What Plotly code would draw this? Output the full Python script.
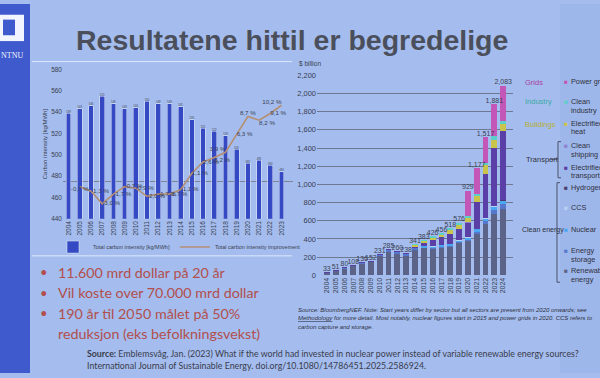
import plotly.graph_objects as go

W, H = 600, 378
def X(p): return p / W
def Y(p): return 1 - p / H

# ---------------- Left chart data ----------------
years_left = [str(y) for y in range(2004, 2024)]
carbon_intensity = [539, 543, 546, 555, 548, 543, 544, 550, 548, 548,
                    545, 533, 525, 522, 518, 505, 492, 495, 490, 484]
improvement_years = [str(y) for y in range(2005, 2024)]
improvement_pct = [-0.7, -1.3, -3.0, -1.7, -0.7, -0.9, -2.0, -1.7, -1.7, -1.1,
                   1.1, 2.6, 3.2, 3.9, 6.3, 8.7, 8.2, 9.1, 10.2]
improvement_labelpos = ["bottom center", "middle right", "middle right", "middle right",
                        "middle right", "middle right", "middle right", "middle right",
                        "middle right", "middle right", "middle right", "middle right",
                        "bottom right", "top left", "middle right", "top center",
                        "bottom right", "middle right", "top left"]

# ---------------- Right chart data ($ billion) ----------------
years_right = [str(y) for y in range(2004, 2025)]
totals = [33, 51, 80, 108, 136, 152, 231, 285, 260, 238, 341, 383, 426, 456,
          518, 576, 929, 1177, 1517, 1881, 2083]
renewable = [32, 50, 78, 106, 133, 148, 215, 265, 241, 217, 282, 299, 289, 299,
             314, 354, 376, 462, 570, 677, 728]
storage = [0, 0, 1, 1, 2, 3, 12, 15, 14, 16, 18, 10, 12, 13, 14, 12, 15, 20, 25, 43, 54]
nuclear = [0, 0, 0, 0, 0, 0, 0, 0, 0, 0, 0, 15, 18, 20, 16, 20, 28, 26, 30, 35, 34]
ccs = [0, 0, 0, 0, 0, 0, 1, 1, 1, 1, 1, 1, 1, 1, 1, 1, 3, 2, 6, 5, 6]
hydrogen = [0, 0, 0, 0, 0, 0, 0, 0, 0, 0, 0, 0, 0, 0, 0, 0, 1, 1, 3, 3, 8]
e_transport = [1, 1, 1, 1, 1, 1, 3, 4, 4, 4, 12, 27, 66, 86, 115, 128, 158, 298, 480, 640, 757]
shipping = [0, 0, 0, 0, 0, 0, 0, 0, 0, 0, 0, 0, 0, 0, 0, 0, 1, 1, 1, 1, 1]
e_heat = [0, 0, 0, 0, 0, 0, 0, 0, 0, 0, 20, 25, 32, 31, 45, 45, 54, 64, 95, 85, 73]
industry = [0, 0, 0, 0, 0, 0, 0, 0, 0, 0, 8, 6, 8, 6, 13, 16, 22, 24, 30, 43, 31]
grids = [0, 0, 0, 0, 0, 0, 0, 0, 0, 0, 0, 0, 0, 0, 0, 0, 271, 279, 277, 349, 391]

right_series = [
    ("Renewable energy", renewable, "#5c6389"),
    ("Energy storage", storage, "#5577cc"),
    ("Nuclear", nuclear, "#4aa8f2"),
    ("CCS", ccs, "#b9d2f4"),
    ("Hydrogen", hydrogen, "#4a3d6c"),
    ("Electrified transport", e_transport, "#5a3fa6"),
    ("Clean shipping", shipping, "#8d80d2"),
    ("Electrified heat", e_heat, "#c9c44c"),
    ("Clean industry", industry, "#5ccfc8"),
    ("Power grids", grids, "#c257b8"),
]

BG = "#a4bdee"
TXT = "#3a3d52"
SANS = "Liberation Sans"

fig = go.Figure()

# Left chart
fig.add_trace(go.Bar(
    x=years_left, y=carbon_intensity, width=0.42,
    marker_color="#3649c4", name="Total carbon intensity [kg/MWh]",
    text=[str(v) for v in carbon_intensity], textposition="outside",
    textfont=dict(size=6.5, color=TXT, family=SANS), cliponaxis=False,
    xaxis="x", yaxis="y", legend="legend",
))
fig.add_trace(go.Scatter(
    x=improvement_years, y=improvement_pct, mode="lines+text",
    line=dict(color="#b48f74", width=1.6),
    name="Total carbon intensity improvement",
    text=[("%.1f" % v).replace(".", ",") + " %" for v in improvement_pct],
    textposition=improvement_labelpos,
    textfont=dict(size=6.2, color=TXT, family=SANS), cliponaxis=False,
    xaxis="x", yaxis="y2", legend="legend",
))

# Right chart
for name, vals, col in right_series:
    fig.add_trace(go.Bar(
        x=years_right, y=vals, width=0.66, name=name, marker_color=col,
        marker_line_width=0, xaxis="x3", yaxis="y3", showlegend=False,
    ))
fig.add_trace(go.Scatter(
    x=years_right, y=totals, mode="text",
    text=["{:,}".format(v) for v in totals], textposition="top center",
    textfont=dict(size=7, color=TXT, family=SANS), cliponaxis=False,
    xaxis="x3", yaxis="y3", showlegend=False, hoverinfo="skip",
))

shapes = [
    # left dark strip with logo
    dict(type="rect", xref="paper", yref="paper", x0=X(0), x1=X(30), y0=0, y1=1,
         fillcolor="#3f5acd", line_width=0, layer="below"),
    dict(type="rect", xref="paper", yref="paper", x0=X(-4), x1=X(24), y0=Y(38), y1=Y(11),
         fillcolor="#f2f5ff", line_width=0, layer="below"),
    dict(type="rect", xref="paper", yref="paper", x0=X(3), x1=X(15), y0=Y(32), y1=Y(16),
         fillcolor="#3f5acd", line_width=0, layer="below"),
    # faint borders of pasted chart image
    dict(type="line", xref="paper", yref="paper", x0=X(32), x1=X(292), y0=Y(59), y1=Y(59),
         line=dict(color="rgba(235,242,255,0.8)", width=1), layer="below"),
    dict(type="line", xref="paper", yref="paper", x0=X(32), x1=X(292), y0=Y(258), y1=Y(258),
         line=dict(color="rgba(235,242,255,0.8)", width=1), layer="below"),
    # slight darkening at right edge
    dict(type="rect", xref="paper", yref="paper", x0=X(560), x1=X(600), y0=0, y1=1,
         fillcolor="rgba(50,80,170,0.05)", line_width=0, layer="below"),
    # legend brackets (right chart)
    dict(type="path", xref="paper", yref="paper",
         path="M %f %f L %f %f L %f %f L %f %f" % (X(561), Y(141), X(558), Y(141), X(558), Y(178), X(561), Y(178)),
         line=dict(color="#4a5068", width=1)),
    dict(type="line", xref="paper", yref="paper", x0=X(550), x1=X(558), y0=Y(159), y1=Y(159),
         line=dict(color="#4a5068", width=1)),
    dict(type="path", xref="paper", yref="paper",
         path="M %f %f L %f %f L %f %f L %f %f" % (X(560), Y(183), X(557), Y(183), X(557), Y(285), X(560), Y(285)),
         line=dict(color="#4a5068", width=1)),
]

ann = []
def text(x, y, s, size, color=TXT, family=SANS, xanchor="left", **kw):
    ann.append(dict(x=X(x), y=Y(y), xref="paper", yref="paper", text=s, showarrow=False,
                    xanchor=xanchor, yanchor="middle", font=dict(size=size, color=color, family=family), **kw))

# Title and logo text
text(74, 37, "<b>Resultatene hittil er begredelige</b>", 28.5, color="#4b4f5b")
text(12, 53, "NTNU", 8, color="#f2f5ff", family="Liberation Serif", xanchor="center")

# bullets
RED = "#b24f4d"
bullets = [(275, "11.600 mrd dollar på 20 år"), (296, "Vil koste over 70.000 mrd dollar"),
           (317, "190 år til 2050 målet på 50%")]
for yy, s in bullets:
    text(38, yy, "•", 13, color=RED, family="Lato")
    text(56, yy, s, 14.3, color=RED, family="Lato")
text(56, 338, "reduksjon (eks befolkningsvekst)", 14.3, color=RED, family="Lato")

# bottom source
text(85, 358, "<b>Source:</b> Emblemsvåg, Jan. (2023) What if the world had invested in nuclear power instead of variable renewable energy sources?",
     8.8, color="#3a3c4c", family="Lato")
text(85, 370, "International Journal of Sustainable Energy. doi.org/10.1080/14786451.2025.2586924.",
     8.8, color="#3a3c4c", family="Lato")

# right note
text(296, 313, "<i>Source: BloombergNEF. Note: Start years differ by sector but all sectors are present from 2020 onwards; see</i>", 6, color="#2e3040")
text(296, 322, "<i><u>Methodology</u> for more detail. Most notably, nuclear figures start in 2015 and power grids in 2020. CCS refers to</i>", 6, color="#2e3040")
text(296, 331, "<i>carbon capture and storage.</i>", 6, color="#2e3040")

# right chart unit
text(297, 61, "$ billion", 6.5)

# right legend group labels
text(523, 80, "Grids", 7.5, color="#a8439f")
text(523, 100, "Industry", 7.5, color="#3aa9a2")
text(523, 123, "Buildings", 7.5, color="#b7ae33")
text(524, 159, "Transport", 7.5, color="#2e3040")
text(520, 232, "Clean energy", 7, color="#2e3040")

# right legend items
legend_items = [
    ("Power grids", None, 79, "#c257b8"),
    ("Clean", "industry", 100, "#5ccfc8"),
    ("Electrified", "heat", 122, "#c9c44c"),
    ("Clean", "shipping", 145, "#8d80d2"),
    ("Electrified", "transport", 167, "#5a3fa6"),
    ("Hydrogen", None, 188, "#4a3d6c"),
    ("CCS", None, 208, "#b9d2f4"),
    ("Nuclear", None, 231, "#4aa8f2"),
    ("Energy", "storage", 253, "#5577cc"),
    ("Renewable", "energy", 273, "#5c6389"),
]
for l1, l2, yy, col in legend_items:
    text(562, yy, "■", 6.5, color=col)
    text(569, yy, l1, 7.3, color="#2e3040")
    if l2:
        text(569, yy + 9, l2, 7.3, color="#2e3040")

fig.update_layout(
    width=W, height=378, autosize=False,
    margin=dict(l=0, r=0, t=0, b=0),
    paper_bgcolor=BG, plot_bgcolor="rgba(0,0,0,0)",
    font=dict(family=SANS, color=TXT),
    barmode="stack",
    shapes=shapes, annotations=ann,
    showlegend=True,
    legend=dict(orientation="h", x=X(53), y=Y(249), xanchor="left", yanchor="middle",
                font=dict(size=5.5, color=TXT, family=SANS), bgcolor="rgba(0,0,0,0)",
                itemwidth=30, tracegroupgap=0, traceorder="normal"),
    xaxis=dict(domain=[X(63), X(293)], type="category", tickangle=-90,
               tickfont=dict(size=6.5, color=TXT), showgrid=False, showline=False,
               ticks="", anchor="y"),
    yaxis=dict(domain=[Y(220), Y(67)], range=[440, 580], dtick=20, showgrid=False,
               zeroline=False, tickfont=dict(size=6.5, color=TXT), ticks="",
               title=dict(text="Carbon intensity [kg/MWh]", font=dict(size=6, color=TXT), standoff=3),
               anchor="x"),
    yaxis2=dict(overlaying="y", range=[-5, 15], showticklabels=False, showgrid=False,
                zeroline=True, zerolinecolor="#7f8594", zerolinewidth=1, ticks="",
                side="right", anchor="x"),
    xaxis3=dict(domain=[X(317), X(513)], type="category", tickangle=-90,
                tickfont=dict(size=7, color=TXT), showgrid=False, ticks="", anchor="y3"),
    yaxis3=dict(domain=[Y(278), Y(73)], range=[0, 2200], dtick=200, tickformat=",",
                showgrid=True, gridcolor="#707891", gridwidth=1, zeroline=False,
                tickfont=dict(size=7.5, color=TXT), ticks="", anchor="x3"),
)

fig.write_html("out.html", config={"displayModeBar": False},
               post_script="document.body.style.margin='0';document.body.style.overflow='hidden';")
